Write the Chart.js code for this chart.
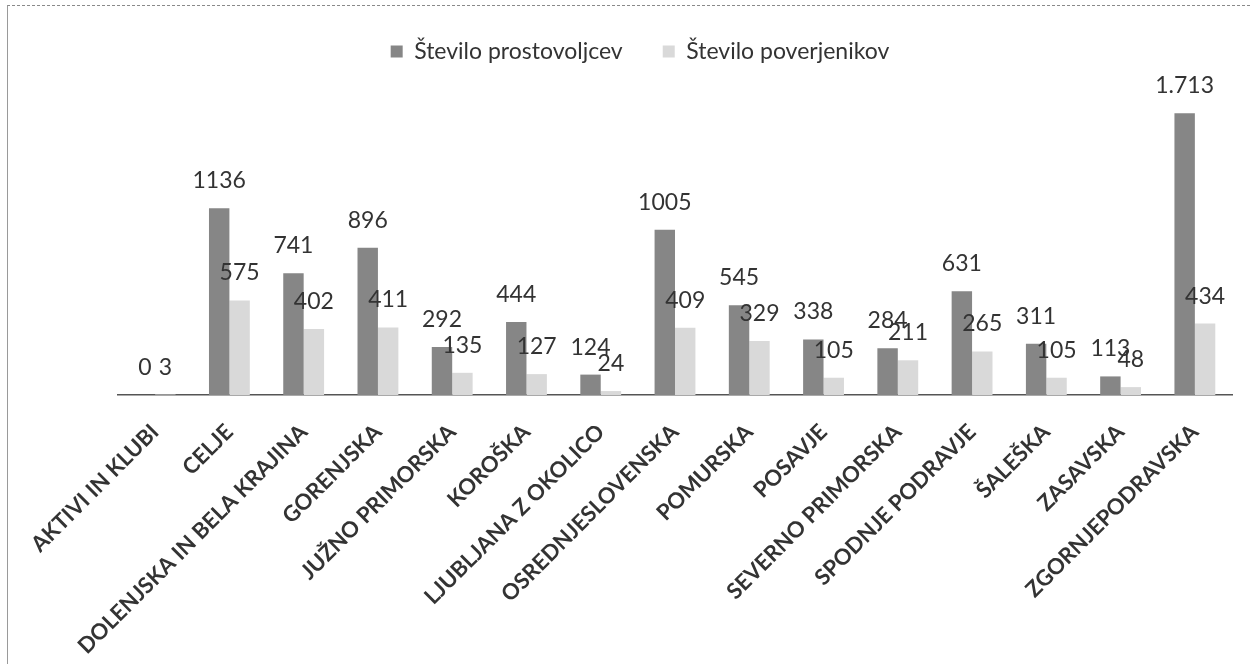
<!DOCTYPE html>
<html>
<head>
<meta charset="utf-8">
<script src="https://cdn.jsdelivr.net/npm/chart.js@4/dist/chart.umd.min.js"></script>
<style>
  html, body { margin: 0; padding: 0; background: #fff; }
  #wrap { position: relative; width: 1250px; height: 664px; }
  #frame { position: absolute; left: 7px; top: 5px; right: 0; bottom: 0;
           border-top: 1px dashed #8a8a8a; border-left: 1px solid #9a9a9a; }
  canvas { position: absolute; left: 0; top: 0; }
</style>
</head>
<body>
<div id="wrap">
  <div id="frame"></div>
  <canvas id="chart" width="1250" height="664"></canvas>
</div>
<script>
// podatki po regijah
var regije = ['AKTIVI IN KLUBI', 'CELJE', 'DOLENJSKA IN BELA KRAJINA', 'GORENJSKA', 'JUŽNO PRIMORSKA',
  'KOROŠKA', 'LJUBLJANA Z OKOLICO', 'OSREDNJESLOVENSKA', 'POMURSKA', 'POSAVJE',
  'SEVERNO PRIMORSKA', 'SPODNJE PODRAVJE', 'ŠALEŠKA', 'ZASAVSKA', 'ZGORNJEPODRAVSKA'];
var prostovoljci = [0, 1136, 741, 896, 292, 444, 124, 1005, 545, 338, 284, 631, 311, 113, 1713];
var poverjeniki = [3, 575, 402, 411, 135, 127, 24, 409, 329, 105, 211, 265, 105, 48, 434];
var prostovoljciText = ['0', '1136', '741', '896', '292', '444', '124', '1005', '545', '338', '284', '631', '311', '113', '1.713'];
var poverjenikiText = ['3', '575', '402', '411', '135', '127', '24', '409', '329', '105', '211', '265', '105', '48', '434'];

var FONT = 'Lato, "Open Sans", sans-serif';

// oznake vrednosti nad stolpci
var valueLabels = {
  id: 'valueLabels',
  afterDatasetsDraw: function(chart) {
    var ctx = chart.ctx;
    var texts = [prostovoljciText, poverjenikiText];
    ctx.save();
    ctx.font = '23px ' + FONT;
    ctx.fillStyle = '#333';
    ctx.textAlign = 'center';
    ctx.textBaseline = 'alphabetic';
    chart.data.datasets.forEach(function(ds, di) {
      chart.getDatasetMeta(di).data.forEach(function(bar, i) {
        ctx.fillText(texts[di][i], bar.x, bar.y - 20);
      });
    });
    ctx.restore();
  }
};

// legenda zavzame le zgornji pas in je centrirana na celo sliko
var legendFit = {
  id: 'legendFit',
  beforeInit: function(chart) {
    var fit = chart.legend.fit;
    chart.legend.fit = function() {
      fit.call(this);
      this.height = 71;
    };
  },
  afterLayout: function(chart) {
    chart.legend.left = 48;
    chart.legend.right = 1232;
  }
};

var ctx = document.getElementById('chart');
var myChart = new Chart(ctx, {
  type: 'bar',
  data: {
    labels: regije,
    datasets: [
      {
        label: 'Število prostovoljcev',
        data: prostovoljci,
        backgroundColor: '#868686',
        categoryPercentage: 0.55,
        barPercentage: 1.0
      }, {
        label: 'Število poverjenikov',
        data: poverjeniki,
        backgroundColor: '#d9d9d9',
        categoryPercentage: 0.55,
        barPercentage: 1.0
      }
    ]
  },
  options: {
    responsive: false,
    animation: false,
    layout: { padding: { left: 118, right: 18, top: 0, bottom: 0 } },
    plugins: {
      legend: {
        position: 'top',
        labels: {
          boxWidth: 12,
          boxHeight: 12,
          padding: 40,
          color: '#333',
          font: { family: FONT, size: 23 }
        }
      },
      tooltip: { enabled: false }
    },
    scales: {
      x: {
        grid: { display: false, drawTicks: false },
        border: { display: true, color: '#555', width: 1.5 },
        ticks: {
          color: '#333',
          font: { family: FONT, size: 22, weight: 'bold' },
          maxRotation: 45,
          minRotation: 45,
          padding: 24,
          autoSkip: false
        },
        afterFit: function(scale) { scale.height = 664 - 395; }
      },
      y: {
        display: false,
        min: 0,
        max: 1970
      }
    }
  },
  plugins: [valueLabels, legendFit]
});
</script>
</body>
</html>
